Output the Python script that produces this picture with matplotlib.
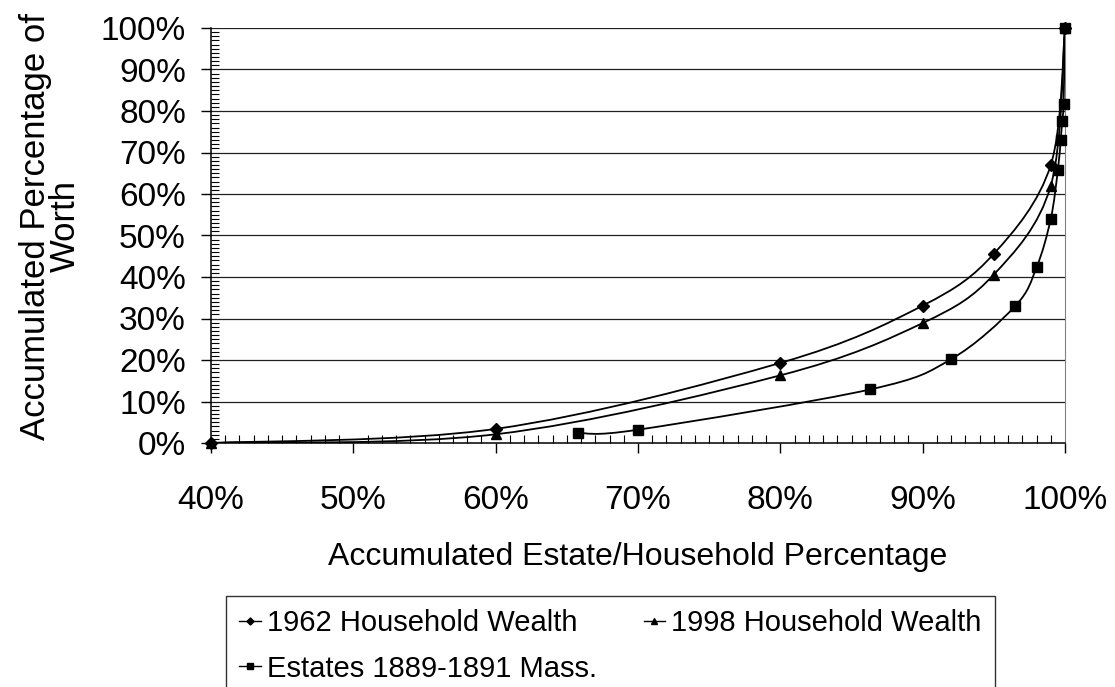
import matplotlib
matplotlib.use('Agg')
import matplotlib.pyplot as plt
from matplotlib.path import Path
from matplotlib.patches import PathPatch
from matplotlib.lines import Line2D
from matplotlib.ticker import MultipleLocator, FixedLocator

plt.rcParams['font.family'] = ['Liberation Sans', 'DejaVu Sans']

# ---- data (percent) ----
x_1962 = [40, 60, 80, 90, 95, 99, 100]
y_1962 = [0.0, 3.4, 19.3, 33.1, 45.6, 67.0, 100.0]
x_1998 = [40, 60, 80, 90, 95, 99, 100]
y_1998 = [0.0, 2.1, 16.3, 28.9, 40.6, 62.0, 100.0]
x_est = [65.8, 70, 86.3, 92, 96.5, 98, 99, 99.5, 99.7, 99.8, 99.9, 100]
y_est = [2.4, 3.2, 12.9, 20.2, 33.0, 42.3, 54.0, 65.8, 73.1, 77.6, 81.8, 100.0]

series_names = ['1962 Household Wealth', '1998 Household Wealth', 'Estates 1889-1891 Mass.']
x_ticks = [40, 50, 60, 70, 80, 90, 100]
x_tick_labels = ['40%', '50%', '60%', '70%', '80%', '90%', '100%']
y_ticks = [0, 10, 20, 30, 40, 50, 60, 70, 80, 90, 100]
y_tick_labels = ['0%', '10%', '20%', '30%', '40%', '50%', '60%', '70%', '80%', '90%', '100%']


def smooth_path(xs, ys):
    pts = list(zip(xs, ys))
    n = len(pts)
    verts = [pts[0]]
    codes = [Path.MOVETO]
    for i in range(n - 1):
        p0 = pts[i - 1] if i > 0 else pts[i]
        p1 = pts[i]
        p2 = pts[i + 1]
        p3 = pts[i + 2] if i + 2 < n else pts[i + 1]
        c1 = (p1[0] + (p2[0] - p0[0]) / 6.0, p1[1] + (p2[1] - p0[1]) / 6.0)
        c2 = (p2[0] - (p3[0] - p1[0]) / 6.0, p2[1] - (p3[1] - p1[1]) / 6.0)
        verts += [c1, c2, p2]
        codes += [Path.CURVE4, Path.CURVE4, Path.CURVE4]
    return Path(verts, codes)


W, H = 1115, 687
fig = plt.figure(figsize=(W / 100, H / 100), dpi=100)
ax = fig.add_axes([211 / W, (H - 443) / H, 854 / W, 415 / H])
ax.set_xlim(40, 100)
ax.set_ylim(0, 100)

for yv in y_ticks[1:]:
    ax.axhline(yv, color='#202020', lw=0.9, zorder=1)

series = [(x_1962, y_1962, 'D', 6.0), (x_1998, y_1998, '^', 7.0), (x_est, y_est, 's', 7.0)]
handles = []
for (xs, ys, m, ms), name in zip(series, series_names):
    patch = PathPatch(smooth_path(xs, ys), facecolor='none', edgecolor='black',
                      lw=1.3, transform=ax.transData, zorder=3)
    ax.add_patch(patch)
    ax.plot(xs, ys, ls='none', marker=m, ms=ms, color='black', zorder=4, clip_on=False)
    handles.append(Line2D([], [], color='black', lw=1.0, marker=m, ms=ms * 0.6))

ax.spines['top'].set_visible(False)
ax.spines['right'].set_color('#808080')
ax.spines['left'].set_linewidth(1.1)
ax.spines['bottom'].set_linewidth(1.1)

ax.xaxis.set_major_locator(FixedLocator(x_ticks))
ax.set_xticklabels(x_tick_labels, fontsize=24)
ax.xaxis.set_minor_locator(MultipleLocator(1))
ax.yaxis.set_major_locator(FixedLocator(y_ticks))
ax.set_yticklabels(y_tick_labels, fontsize=24)
ax.yaxis.set_minor_locator(MultipleLocator(1))
ax.tick_params(axis='x', which='major', direction='out', length=7, width=1, pad=23)
ax.tick_params(axis='x', which='minor', direction='in', length=5.5, width=0.8)
ax.tick_params(axis='y', which='major', direction='out', length=7, width=1, pad=11)
ax.tick_params(axis='y', which='minor', direction='in', length=5.5, width=0.8)

ax.set_xlabel('Accumulated Estate/Household Percentage', fontsize=23, labelpad=19)
ax.set_ylabel('Accumulated Percentage of\nWorth', fontsize=25, linespacing=0.9)
ax.yaxis.set_label_coords(-0.151, 0.522)

# row-major order like the reference: 1962, 1998 on first row, Estates below
order = [0, 2, 1]
leg = fig.legend([handles[i] for i in order], [series_names[i] for i in order],
                 loc='upper left',
                 bbox_to_anchor=(226 / W, (H - 596) / H), bbox_transform=fig.transFigure,
                 ncol=2, prop={'size': 21}, frameon=True, fancybox=False,
                 edgecolor='black', handlelength=0.75, handletextpad=0.2,
                 columnspacing=1.6, borderpad=0.45, labelspacing=0.6, borderaxespad=0)
leg.get_frame().set_linewidth(1.0)

fig.savefig('out.png', dpi=100)
